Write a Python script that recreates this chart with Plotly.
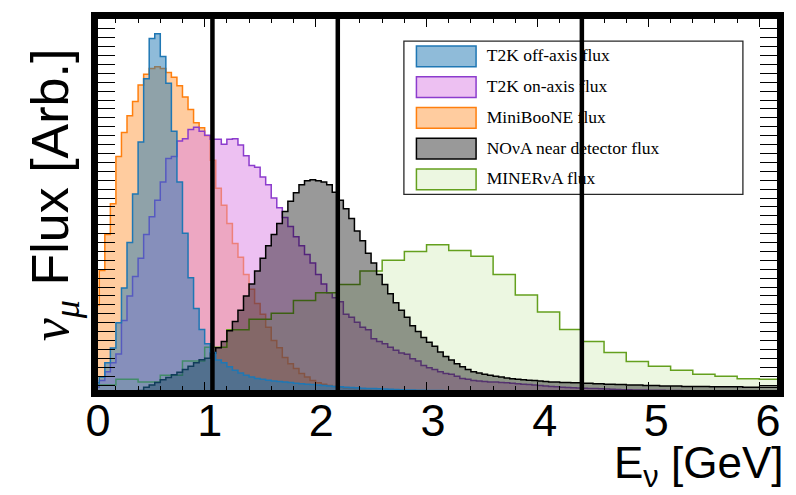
import plotly.graph_objects as go

# ---------------- data ----------------
series_names = ["T2K off-axis flux", "T2K on-axis flux", "MiniBooNE flux",
                "NO\u03bdA near detector flux", "MINER\u03bdA flux"]

fine_bin_width = 0.05   # GeV
coarse_bin_width = 0.2  # GeV

t2k_off = [0.25, 0.38, 0.70, 1.03, 1.60, 2.38, 3.40, 4.49, 5.66, 7.08,
           7.98, 8.09, 7.58, 6.98, 5.90, 4.76, 3.61, 2.61, 1.92, 1.45,
           1.13, 0.93, 0.76, 0.70, 0.61, 0.53, 0.47, 0.42, 0.38, 0.35,
           0.33, 0.31, 0.29, 0.28, 0.27, 0.26, 0.24, 0.23, 0.22, 0.21,
           0.20, 0.19, 0.18, 0.17, 0.16, 0.15, 0.145, 0.14, 0.13, 0.125,
           0.12, 0.115, 0.11, 0.105, 0.10, 0.095, 0.09, 0.088, 0.085, 0.082,
           0.080, 0.078, 0.076, 0.074, 0.072, 0.070, 0.068, 0.066, 0.064, 0.062,
           0.060, 0.059, 0.058, 0.057, 0.056, 0.055, 0.054, 0.053, 0.052, 0.051,
           0.050, 0.049, 0.048, 0.047, 0.046, 0.045, 0.044, 0.043, 0.042, 0.041,
           0.040, 0.039, 0.038, 0.037, 0.036, 0.035, 0.034, 0.033, 0.032, 0.031,
           0.030, 0.030, 0.029, 0.029, 0.028, 0.028, 0.027, 0.027, 0.026, 0.026,
           0.025, 0.025, 0.024, 0.024, 0.023, 0.023, 0.022, 0.022, 0.021, 0.021,
           0.020, 0.020, 0.020, 0.020]

t2k_on = [0.15, 0.30, 0.50, 0.70, 0.90, 1.65, 2.20, 2.64, 3.05, 3.58,
          3.98, 4.35, 4.76, 5.29, 5.33, 5.68, 5.73, 5.94, 5.99, 5.90,
          5.81, 5.72, 5.72, 5.61, 5.72, 5.73, 5.59, 5.35, 5.13, 5.09,
          4.87, 4.70, 4.40, 4.18, 3.96, 3.76, 3.53, 3.33, 3.13, 2.94,
          2.68, 2.47, 2.27, 2.16, 2.07, 1.79, 1.72, 1.61, 1.50, 1.44,
          1.24, 1.18, 1.13, 1.05, 0.98, 0.92, 0.89, 0.79, 0.74, 0.64,
          0.59, 0.55, 0.50, 0.46, 0.44, 0.40, 0.35, 0.33, 0.30, 0.29,
          0.28, 0.27, 0.27, 0.26, 0.25, 0.24, 0.23, 0.22, 0.21, 0.20,
          0.19, 0.18, 0.17, 0.16, 0.15, 0.145, 0.14, 0.135, 0.13, 0.125,
          0.12, 0.115, 0.11, 0.105, 0.10, 0.095, 0.093, 0.091, 0.089, 0.087,
          0.085, 0.083, 0.081, 0.079, 0.077, 0.075, 0.073, 0.071, 0.069, 0.067,
          0.065, 0.063, 0.061, 0.059, 0.057, 0.055, 0.054, 0.053, 0.052, 0.051,
          0.050, 0.050, 0.050, 0.050]

miniboone = [2.00, 2.77, 3.58, 4.27, 5.33, 5.87, 6.25, 6.57, 6.94, 7.18,
             7.31, 7.35, 7.31, 7.22, 7.11, 6.92, 6.67, 6.39, 6.09, 5.98,
             5.80, 5.25, 4.62, 4.24, 3.83, 3.38, 3.07, 2.68, 2.35, 2.03,
             1.79, 1.50, 1.20, 1.04, 0.82, 0.68, 0.57, 0.46, 0.38, 0.30,
             0.25, 0.22, 0.19, 0.17, 0.15, 0.13, 0.12, 0.11, 0.10, 0.09,
             0.085, 0.080, 0.075, 0.070, 0.068, 0.065, 0.062, 0.060, 0.058, 0.055,
             0.050, 0.049, 0.048, 0.047, 0.046, 0.045, 0.044, 0.043, 0.042, 0.041,
             0.040, 0.039, 0.038, 0.037, 0.036, 0.035, 0.035, 0.034, 0.034, 0.033,
             0.033, 0.032, 0.032, 0.031, 0.031, 0.030, 0.030, 0.029, 0.029, 0.028,
             0.028, 0.027, 0.027, 0.026, 0.026, 0.025, 0.025, 0.025, 0.024, 0.024,
             0.024, 0.023, 0.023, 0.023, 0.022, 0.022, 0.022, 0.021, 0.021, 0.021,
             0.021, 0.020, 0.020, 0.020, 0.020, 0.020, 0.020, 0.020, 0.020, 0.020,
             0.020, 0.020, 0.020, 0.020]

nova = [0.00, 0.00, 0.01, 0.02, 0.03, 0.04, 0.05, 0.06, 0.08, 0.15,
        0.20, 0.26, 0.32, 0.37, 0.43, 0.49, 0.55, 0.62, 0.70, 0.77,
        0.80, 0.92, 1.04, 1.18, 1.42, 1.63, 1.88, 2.20, 2.47, 2.76,
        3.05, 3.33, 3.58, 3.83, 4.10, 4.33, 4.52, 4.70, 4.79, 4.81,
        4.79, 4.76, 4.70, 4.53, 4.35, 4.16, 3.94, 3.66, 3.44, 3.16,
        2.94, 2.68, 2.46, 2.25, 2.05, 1.88, 1.72, 1.53, 1.40, 1.27,
        1.16, 1.07, 0.94, 0.84, 0.76, 0.68, 0.61, 0.55, 0.50, 0.47,
        0.44, 0.42, 0.40, 0.38, 0.36, 0.34, 0.33, 0.32, 0.31, 0.30,
        0.29, 0.28, 0.27, 0.27, 0.26, 0.26, 0.25, 0.25, 0.24, 0.24,
        0.23, 0.23, 0.22, 0.22, 0.21, 0.21, 0.20, 0.20, 0.20, 0.19,
        0.19, 0.19, 0.18, 0.18, 0.18, 0.18, 0.17, 0.17, 0.17, 0.17,
        0.17, 0.16, 0.16, 0.16, 0.16, 0.16, 0.16, 0.15, 0.15, 0.15,
        0.15, 0.15, 0.15, 0.15]

minerva = [0.20, 0.33, 0.27, 0.42, 0.74, 1.05, 1.44, 1.68, 1.81, 2.10,
           2.27, 2.46, 2.76, 3.00, 3.20, 3.35, 3.22, 3.09, 2.68, 2.22,
           1.84, 1.45, 1.18, 0.93, 0.73, 0.62, 0.53, 0.44, 0.40, 0.34,
           0.33]

x_tick_labels = ["0", "1", "2", "3", "4", "5", "6"]
cut_energies = [1.07, 2.20, 4.40]   # GeV, thick black vertical markers

# ---------------- styles ----------------
edge_colors = {"T2K off-axis flux": "#1f77b4",
               "T2K on-axis flux": "rgb(140,60,205)",
               "MiniBooNE flux": "#ff7f0e",
               "NO\u03bdA near detector flux": "black",
               "MINER\u03bdA flux": "rgb(100,160,30)"}
fill_colors = {"T2K off-axis flux": "rgba(31,119,180,0.5)",
               "T2K on-axis flux": "rgba(220,130,230,0.5)",
               "MiniBooNE flux": "rgba(255,127,14,0.4)",
               "NO\u03bdA near detector flux": "rgba(0,0,0,0.4)",
               "MINER\u03bdA flux": "rgba(140,210,80,0.17)"}

series_values = {"T2K off-axis flux": (t2k_off, fine_bin_width),
                 "T2K on-axis flux": (t2k_on, fine_bin_width),
                 "MiniBooNE flux": (miniboone, fine_bin_width),
                 "NO\u03bdA near detector flux": (nova, fine_bin_width),
                 "MINER\u03bdA flux": (minerva, coarse_bin_width)}

draw_order = ["MiniBooNE flux", "T2K on-axis flux", "MINER\u03bdA flux",
              "NO\u03bdA near detector flux", "T2K off-axis flux"]

fig = go.Figure()
for name in draw_order:
    vals, w = series_values[name]
    edges = [round(i * w, 4) for i in range(len(vals) + 1)]
    fig.add_trace(go.Scatter(
        x=edges, y=list(vals) + [vals[-1]], mode="lines", line_shape="hv",
        line=dict(color=edge_colors[name], width=1.5),
        fill="tozeroy", fillcolor=fill_colors[name],
        name=name, showlegend=False, hoverinfo="skip"))

# ---------------- layout geometry ----------------
W, H = 796, 495
L, R, T, B = 98, 781, 15, 390          # inner plot box in pixels
X_RANGE = [0.0385, 6.159]
Y_RANGE = [0.089, 8.42]


def px2paper_x(p):
    return (p - L) / (R - L)


def px2paper_y(p):
    return (B - p) / (B - T)


def px2data_x(p):
    return X_RANGE[0] + px2paper_x(p) * (X_RANGE[1] - X_RANGE[0])


def px2data_y(p):
    return Y_RANGE[0] + px2paper_y(p) * (Y_RANGE[1] - Y_RANGE[0])


shapes = []
# legend box
shapes.append(dict(type="rect", xref="paper", yref="paper", layer="below",
                   x0=px2paper_x(405.7), x1=px2paper_x(746.7),
                   y0=px2paper_y(192.3), y1=px2paper_y(37.3),
                   line=dict(color="rgb(40,40,40)", width=1.3), fillcolor="white"))
row_top0, row_pitch, sw_h = 42.3, 31.1, 21.0
legend_text_y = []
for k, name in enumerate(series_names):
    top = row_top0 + k * row_pitch
    shapes.append(dict(type="rect", xref="paper", yref="paper", layer="below",
                       x0=px2paper_x(418.3), x1=px2paper_x(478.3),
                       y0=px2paper_y(top + sw_h), y1=px2paper_y(top),
                       line=dict(color=edge_colors[name], width=1.5),
                       fillcolor=fill_colors[name]))
    legend_text_y.append(px2data_y(top + sw_h / 2 + 0.5))

fig.add_trace(go.Scatter(
    x=[px2data_x(489)] * len(series_names), y=legend_text_y, mode="text",
    text=series_names, textposition="middle right",
    textfont=dict(family="Liberation Serif, Times New Roman, serif", size=17.5, color="black"),
    showlegend=False, hoverinfo="skip"))

for e in cut_energies:
    shapes.append(dict(type="line", xref="x", yref="paper", layer="above",
                       x0=e, x1=e, y0=0, y1=1,
                       line=dict(color="black", width=4.5)))

axis_common = dict(showline=True, linewidth=7, linecolor="black", mirror="allticks",
                   ticks="inside", tickcolor="black", showgrid=False, zeroline=False,
                   showticklabels=False, tick0=0, dtick=1)

fig.update_layout(
    width=W, height=H, autosize=False,
    margin=dict(l=L, r=W - R, t=T, b=H - B, pad=0),
    paper_bgcolor="white", plot_bgcolor="white",
    showlegend=False,
    xaxis=dict(range=X_RANGE, ticklen=8, tickwidth=1.3,
               minor=dict(dtick=0.2, tick0=0, ticks="inside", ticklen=4,
                          tickwidth=1, tickcolor="black"),
               **axis_common),
    yaxis=dict(range=Y_RANGE, ticklen=17, tickwidth=1.3,
               minor=dict(dtick=0.2, tick0=0, ticks="inside", ticklen=7,
                          tickwidth=1, tickcolor="black"),
               **axis_common),
    xaxis2=dict(overlaying="x", anchor="y", side="bottom", range=[0, 6.08],
                tickmode="array", tickvals=[0, 1, 2, 3, 4, 5, 6], ticktext=x_tick_labels,
                ticks="", showline=False, showgrid=False, zeroline=False,
                tickfont=dict(family="Liberation Sans, Arial, sans-serif", size=45, color="black")),
    shapes=shapes,
    annotations=[
        dict(xref="paper", yref="paper", x=px2paper_x(789), y=px2paper_y(467),
             xanchor="right", yanchor="middle", showarrow=False,
             text="E<sub>\u03bd</sub> [GeV]",
             font=dict(family="Liberation Sans, Arial, sans-serif", size=44, color="black")),
        dict(xref="paper", yref="paper", x=px2paper_x(54), y=px2paper_y(193),
             xanchor="center", yanchor="middle", showarrow=False, textangle=-90,
             text="<span style=\"font-family:Liberation Serif\"><i>\u03bd</i><sub><i>\u03bc</i></sub></span> Flux [Arb.]",
             font=dict(family="Liberation Sans, Arial, sans-serif", size=52, color="black")),
    ],
)

# invisible point on xaxis2 so that its labels are drawn
fig.add_trace(go.Scatter(x=[0], y=[-5], xaxis="x2", yaxis="y", mode="markers",
                         marker=dict(opacity=0), showlegend=False, hoverinfo="skip"))

fig.write_html("out.html")
